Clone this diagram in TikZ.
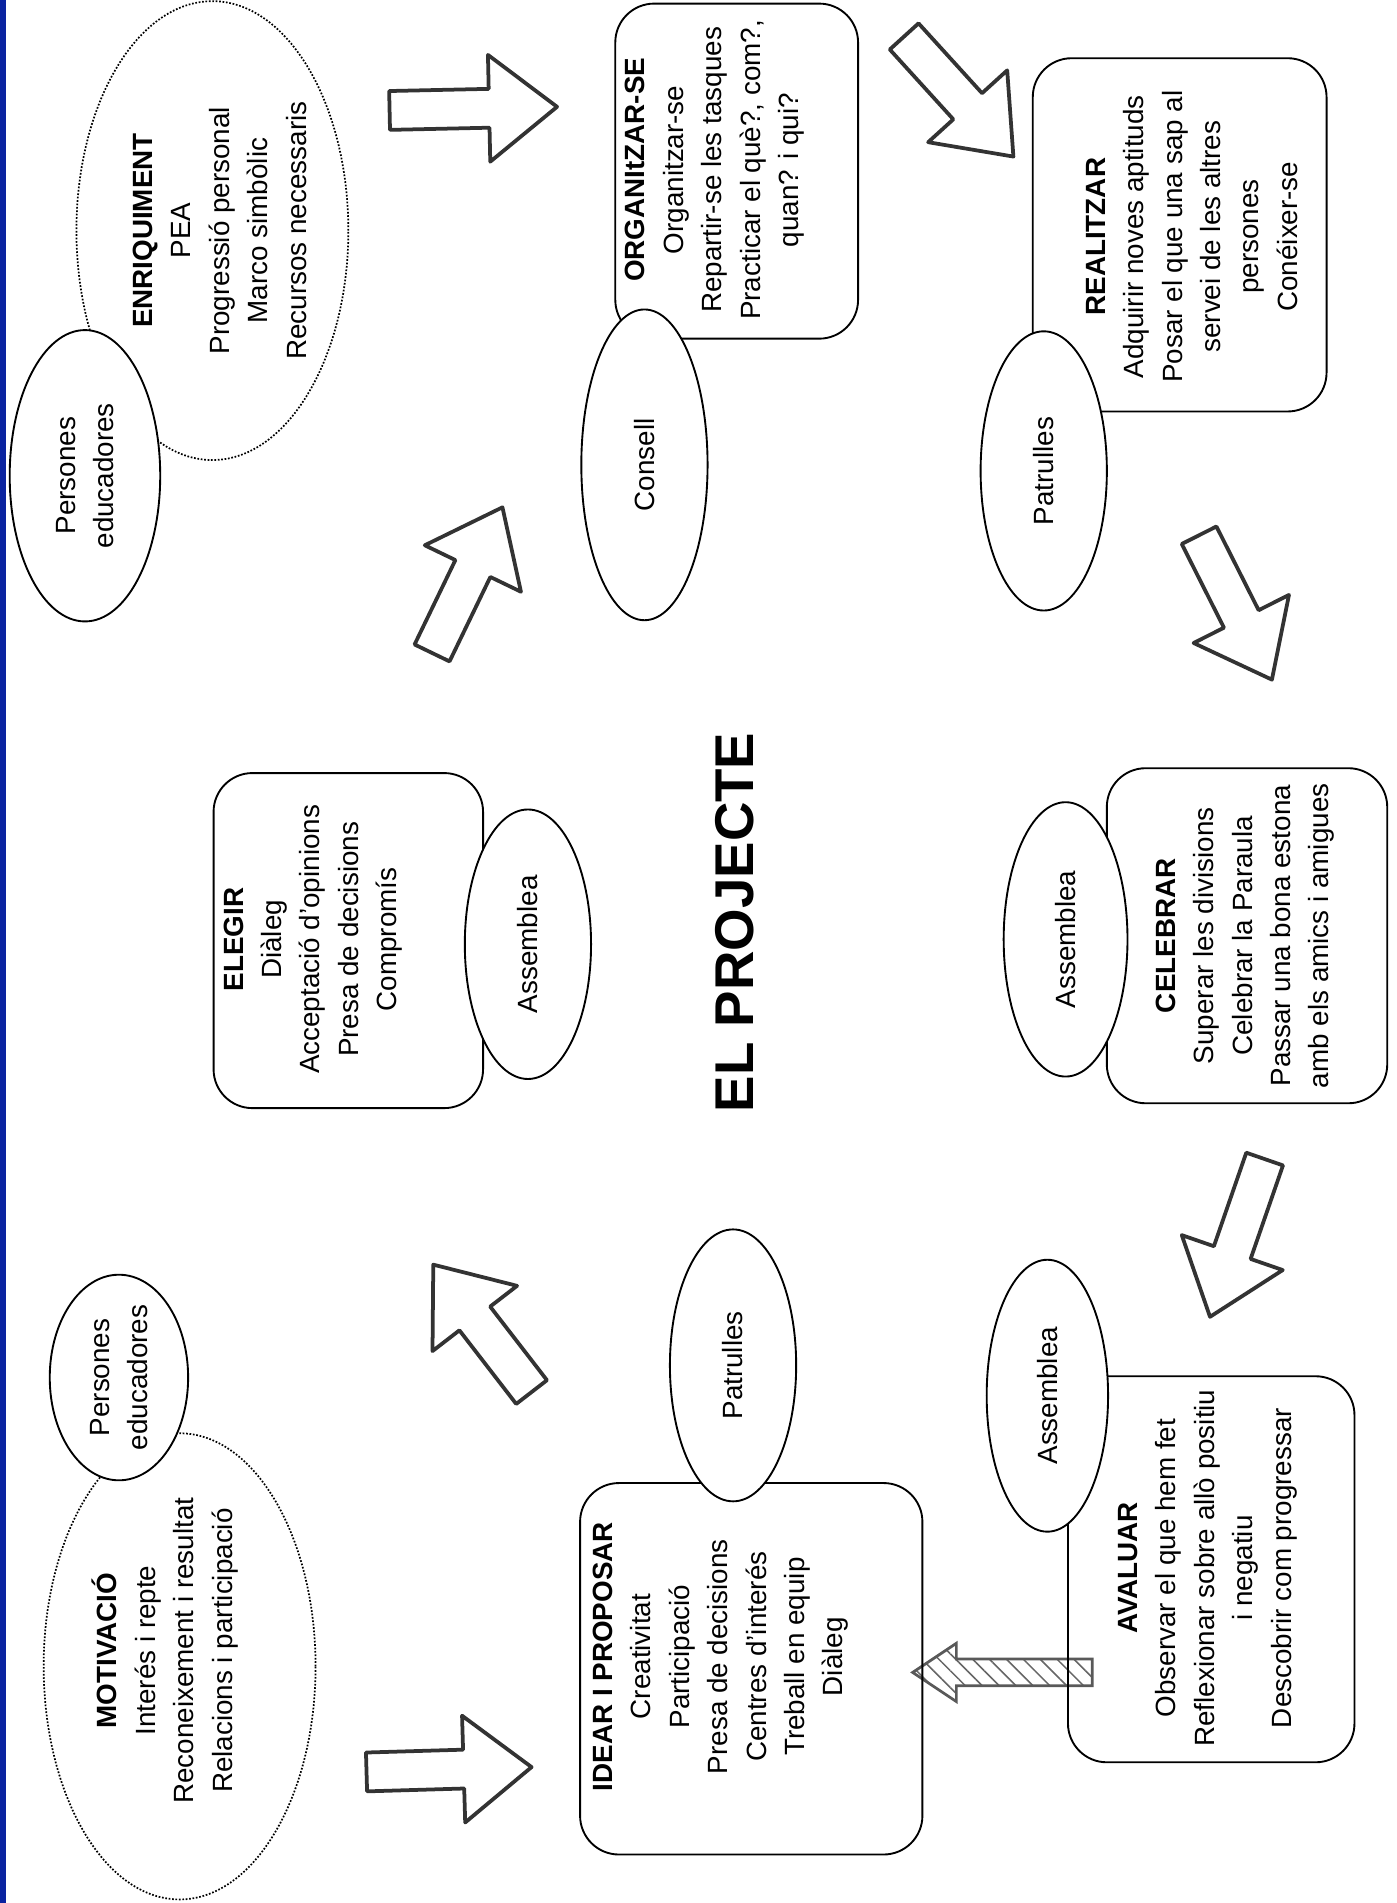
\documentclass[tikz,border=0pt]{standalone}
\usepackage{fontspec}
\setmainfont{Liberation Sans}
\usetikzlibrary{calc,shapes.geometric,patterns.meta}
\definecolor{barblue}{RGB}{10,35,160}
% block arrow: style, tail, tip, half shaft, half head, head length
\newcommand{\blockarrow}[6]{%
  \path ($(#3)!#6!(#2)$) coordinate (hb);
  \draw[#1] ($(#2)!#4!-90:(#3)$) -- ($(hb)!#4!90:(#2)$) -- ($(hb)!#5!90:(#2)$) -- (#3)
    -- ($(hb)!#5!-90:(#2)$) -- ($(hb)!#4!-90:(#2)$) -- ($(#2)!#4!90:(#3)$) -- cycle;}

\begin{document}
\begin{tikzpicture}[x=0.025cm,y=-0.025cm,
	txt/.style={rotate=90,align=center,font=\fontsize{16.3}{22.5}\selectfont},
	group/.style={draw,densely dotted,line width=1pt,ellipse,inner sep=0pt},
	who/.style={draw,line width=1.1pt,fill=white,ellipse,inner sep=0pt,rotate=90,align=center,font=\fontsize{16.3}{22.5}\selectfont},
	stage/.style={draw,line width=1.1pt,rounded corners=0.8cm,inner sep=0pt},
	bigarrow/.style={draw=black!80,fill=white,line width=2.2pt,line join=round},
	hatcharrow/.style={draw=black!65,line width=1.6pt,pattern={Lines[angle=-45,distance=7pt,line width=0.9pt]},pattern color=black!60}]
		\fill[white] (0,0) rectangle (1151,1568);
		\useasboundingbox (0,0) rectangle (1151,1568);
		\fill[barblue] (0,0) rectangle (5,1568);
		
		% dotted groups
		\node[group,minimum width=5.6cm,minimum height=9.45cm] (enriq) at (175,190) {};
		\node[group,minimum width=5.6cm,minimum height=9.6cm] (motiv) at (148,1373) {};
		
		% hatched arrow back to the start
		\coordinate (htail) at (900,1378);
		\coordinate (htip) at (752,1378);
		\blockarrow{hatcharrow}{htail}{htip}{2.75mm}{6mm}{9mm}
		
		% stages
		\node[stage,minimum width=7.05cm,minimum height=7.65cm] (idear) at (619,1375) {};
		\node[stage,minimum width=5.55cm,minimum height=6.9cm] (elegir) at (287,775) {};
		\node[stage,minimum width=5cm,minimum height=6.9cm] (organ) at (607,141) {};
		\node[stage,minimum width=6.05cm,minimum height=7.275cm] (realit) at (972,193.5) {};
		\node[stage,minimum width=5.775cm,minimum height=6.9cm] (celeb) at (1027.5,771) {};
		\node[stage,minimum width=5.9cm,minimum height=7.95cm] (aval) at (998,1293) {};
		
		% who takes part
		\node[who,minimum width=6cm,minimum height=3.1cm] (pers1) at (70,392) {Persones\\educadores};
		\node[who,minimum width=3.9cm,minimum height=2.85cm] (pers2) at (98,1135) {Persones\\educadores};
		\node[who,minimum width=5.6cm,minimum height=2.6cm] (patr2) at (604,1125) {Patrulles};
		\node[who,minimum width=5.55cm,minimum height=2.6cm] (assem1) at (435,778) {Assemblea};
		\node[who,minimum width=6.4cm,minimum height=2.6cm] (consell) at (531,383) {Consell};
		\node[who,minimum width=5.75cm,minimum height=2.6cm] (patr1) at (860,388) {Patrulles};
		\node[who,minimum width=5.65cm,minimum height=2.55cm] (assem2) at (878,774) {Assemblea};
		\node[who,minimum width=5.6cm,minimum height=2.5cm] (assem3) at (863,1150) {Assemblea};
		
		% arrows
		\coordinate (a1t) at (321,91);    \coordinate (a1p) at (459,88);
		\coordinate (a2t) at (356,538);   \coordinate (a2p) at (414,418);
		\coordinate (a3t) at (745,30);    \coordinate (a3p) at (835,129);
		\coordinate (a4t) at (988,441);   \coordinate (a4p) at (1048,560);
		\coordinate (a5t) at (1042,955);  \coordinate (a5p) at (997,1085);
		\coordinate (a6t) at (438,1147);  \coordinate (a6p) at (357,1042);
		\coordinate (a7t) at (302,1460);  \coordinate (a7p) at (438,1456);
		\foreach \a in {a1,a2,a3,a4,a5,a6,a7}
			{\blockarrow{bigarrow}{\a t}{\a p}{4mm}{11mm}{14mm}}
		
		% texts
		\node[txt] (enriq-txt) at (181,190) {\textbf{ENRIQUIMENT}\\PEA\\Progressió personal\\Marco simbòlic\\Recursos necessaris};
		\node[txt] (motiv-txt) at (136,1360) {\textbf{MOTIVACIÓ}\\Interés i repte\\Reconeixement i resultat\\Relacions i participació};
		\node[txt] (idear-txt) at (594,1365) {\textbf{IDEAR I PROPOSAR}\\Creativitat\\Participació\\Presa de decisions\\Centres d'interés\\Treball en equip\\Diàleg};
		\node[txt] (elegir-txt) at (258,774) {\textbf{ELEGIR}\\Diàleg\\Acceptació d'opinions\\Presa de decisions\\Compromís};
		\node[txt] (organ-txt) at (589,140) {\textbf{ORGANItZAR-SE}\\Organitzar-se\\Repartir-se les tasques\\Practicar el què?, com?,\\quan? i qui?};
		\node[txt] (realit-txt) at (982,195) {\textbf{REALITZAR}\\Adquirir noves aptituds\\Posar el que una sap al\\servei de les altres\\persones\\Conéixer-se};
		\node[txt] (celeb-txt) at (1026,771) {\textbf{CELEBRAR}\\Superar les divisions\\Celebrar la Paraula\\Passar una bona estona\\amb els amics i amigues};
		\node[txt] (aval-txt) at (995,1292) {\textbf{AVALUAR}\\Observar el que hem fet\\Reflexionar sobre allò positiu\\i negatiu\\Descobrir com progressar};
		
		\node[rotate=90,font=\fontsize{32}{38}\selectfont\bfseries] (title) at (605,760) {EL PROJECTE};
	\end{tikzpicture}
\end{document}
